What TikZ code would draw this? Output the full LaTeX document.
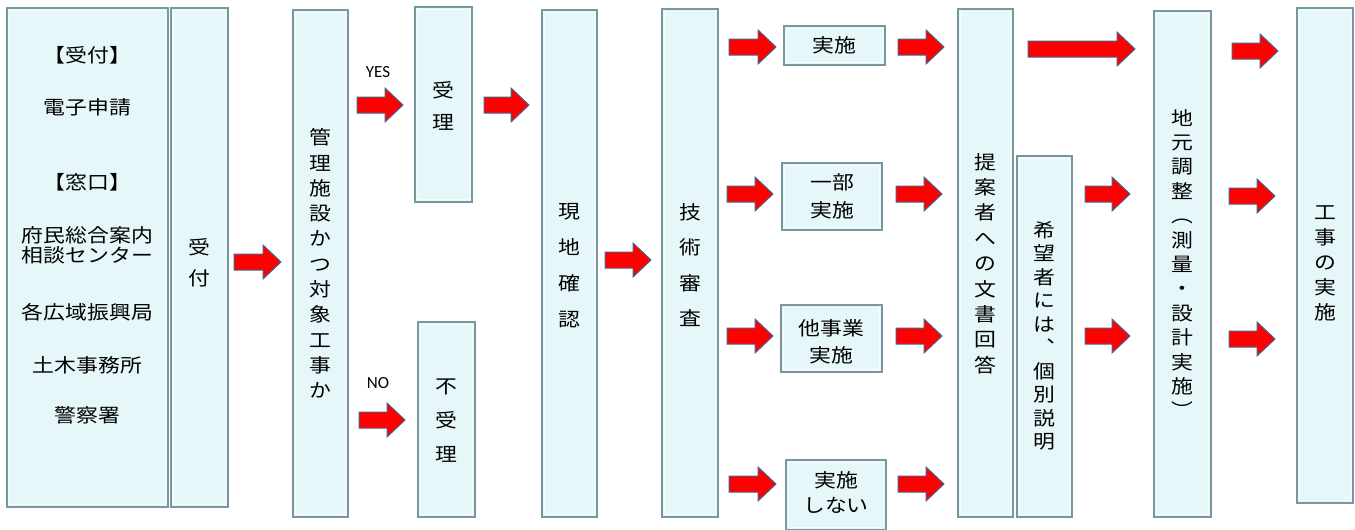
\documentclass[tikz,border=0pt]{standalone}
\usepackage{fontspec}
\usetikzlibrary{fit}
\newfontfamily\jp[FakeStretch=1.15]{Noto Sans CJK JP}
\newfontfamily\lat{Carlito}
\definecolor{boxfill}{RGB}{230,247,250}
\definecolor{boxedge}{RGB}{118,152,158}
\definecolor{arrfill}{RGB}{255,0,0}
\definecolor{arredge}{RGB}{70,100,140}
\tikzset{
  box/.style={draw=boxedge, line width=1.6pt, fill=boxfill, inner sep=0pt, rectangle,
    path picture={\draw[white, line width=1pt, opacity=0.8]
      ([shift={(2.5pt,-2.5pt)}]path picture bounding box.north west) rectangle
      ([shift={(-2.5pt,2.5pt)}]path picture bounding box.south east);}},
  vt/.style={align=center, inner sep=0pt, font=\jp\fontsize{19}{#1}\selectfont},
  lbl/.style={inner sep=0pt, font=\lat\fontsize{17}{17}\selectfont},
  arr/.style={fill=arrfill, draw=arredge, line width=1pt, line join=miter}
}
% block arrow: x-start, x-end, y-center
\newcommand\barrow[3]{\draw[arr] (#1,#3-8) -- (#2-18,#3-8) -- (#2-18,#3-17) -- (#2,#3)
  -- (#2-18,#3+17) -- (#2-18,#3+8) -- (#1,#3+8) -- cycle;}
\begin{document}
\begin{tikzpicture}[x=1pt,y=-1pt]
\useasboundingbox (0,0) rectangle (1355,530);
% boxes
\node[box, fit={(7,8) (168,507)}] (src) {};
\node[box, fit={(171,8) (228,507)}] (uke) {};
\node[box, fit={(293,10) (348,517)}] (kanri) {};
\node[box, fit={(415,7) (472,202)}] (juri) {};
\node[box, fit={(418,322) (475,517)}] (fujuri) {};
\node[box, fit={(542,10) (597,517)}] (genchi) {};
\node[box, fit={(662,9) (718,517)}] (gijutsu) {};
\node[box, fit={(784,26) (885,65)}] (jisshi) {};
\node[box, fit={(782,163) (882,230)}] (ichibu) {};
\node[box, fit={(781,305) (882,372)}] (tajigyo) {};
\node[box, fit={(786,460) (886,530)}] (shinai) {};
\node[box, fit={(958,9) (1013,517)}] (bunsho) {};
\node[box, fit={(1017,156) (1072,517)}] (kobetsu) {};
\node[box, fit={(1154,11) (1211,517)}] (jimoto) {};
\node[box, fit={(1297,8) (1353,503)}] (koji) {};
% left box texts
\node[vt=20] (l1) at (87.5,55) {【受付】};
\node[vt=20] (l2) at (87.5,107) {電子申請};
\node[vt=20] (l3) at (87.5,182) {【窓口】};
\node[vt=20] (l4) at (87.5,245) {府民総合案内\\相談センター};
\node[vt=20] (l5) at (87.5,312) {各広域振興局};
\node[vt=20] (l6) at (87.5,365) {土木事務所};
\node[vt=20] (l7) at (87.5,415) {警察署};
% column texts
\node[vt=31] (t_uke) at (199.5,262.5) {受\\付};
\node[vt=25.3] (t_kanri) at (320.5,263.5) {管\\理\\施\\設\\か\\つ\\対\\象\\工\\事\\か};
\node[vt=32] (t_juri) at (443.5,106) {受\\理};
\node[vt=34] (t_fujuri) at (446.5,421) {不\\受\\理};
\node[vt=36] (t_genchi) at (569.5,266) {現\\地\\確\\認};
\node[vt=35.5] (t_gijutsu) at (690,265) {技\\術\\審\\査};
\node[vt=28] (t_jisshi) at (834.5,45.5) {実施};
\node[vt=28] (t_ichibu) at (832,196) {一部\\実施};
\node[vt=27] (t_tajigyo) at (831.5,341.5) {他事業\\実施};
\node[vt=25] (t_shinai) at (836,492) {実施\\しない};
\node[vt=25.4] (t_bunsho) at (985.5,263.5) {提\\案\\者\\へ\\の\\文\\書\\回\\答};
\node[vt=23.5] (t_kobetsu) at (1044.5,336) {希\\望\\者\\に\\は\\︑\\個\\別\\説\\明};
\node[vt=24.4] (t_jimoto) at (1182.5,263.5) {地\\元\\調\\整\\︵\\測\\量\\・\\設\\計\\実\\施\\︶};
\node[vt=25] (t_koji) at (1325,263) {工\\事\\の\\実\\施};
% labels
\node[lbl] (yes) at (378,72) {YES};
\node[lbl] (no) at (378,383) {NO};
% arrows
\barrow{234}{281}{262}
\barrow{357}{403}{105}
\barrow{359}{405}{420}
\barrow{484}{529}{105}
\barrow{605}{651}{260}
\barrow{729}{776}{47}
\barrow{898}{944}{47}
\barrow{727}{773}{194}
\barrow{896}{942}{194}
\barrow{727}{773}{336}
\barrow{896}{942}{336}
\barrow{729}{776}{484}
\barrow{898}{944}{484}
\barrow{1028}{1135}{49}
\barrow{1085}{1130}{194}
\barrow{1085}{1130}{336}
\barrow{1232}{1278}{51}
\barrow{1229}{1275}{196}
\barrow{1229}{1275}{339}
\end{tikzpicture}
\end{document}
